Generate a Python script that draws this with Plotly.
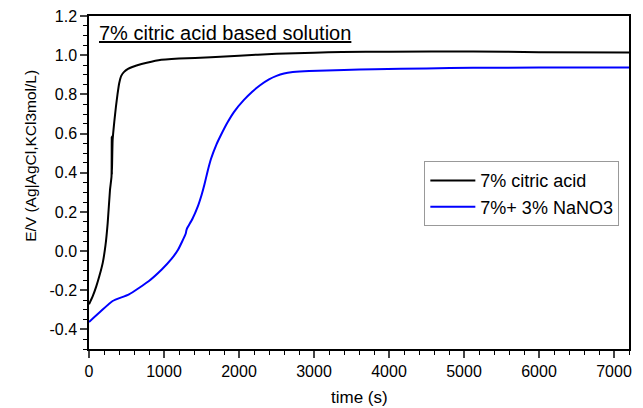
import plotly.graph_objects as go

# Black: 7% citric acid
t_citric = [0, 50, 97, 140, 183, 220, 249, 280, 300, 303, 305, 315, 337, 359, 380, 402, 430, 468, 520, 577, 700, 927,
            1200, 1625, 2000, 2500, 3000, 3373, 4000, 5120, 6000, 7200]
e_citric = [-0.272, -0.23, -0.18, -0.125, -0.06, 0.03, 0.143, 0.313, 0.38, 0.585, 0.39, 0.567, 0.66, 0.737, 0.80, 0.856,
            0.895, 0.915, 0.93, 0.94, 0.955, 0.975, 0.983, 0.99, 0.998, 1.008, 1.013, 1.017, 1.018, 1.019, 1.016, 1.014]

# Blue: 7% + 3% NaNO3
t_nano3 = [0, 150, 315, 533, 795, 970, 1100, 1189, 1290, 1298, 1310, 1380, 1451, 1500, 1539, 1580, 1626, 1700, 1756,
           1844, 1932, 2063, 2180, 2281, 2400, 2500, 2600, 2718, 2936, 3400, 3810, 4500, 5120, 6000, 7200]
e_nano3 = [-0.362, -0.31, -0.255, -0.221, -0.154, -0.094, -0.04, 0.008, 0.09, 0.105, 0.118, 0.165, 0.228, 0.285, 0.34,
           0.405, 0.47, 0.545, 0.59, 0.655, 0.71, 0.771, 0.815, 0.847, 0.877, 0.895, 0.907, 0.914, 0.92, 0.925, 0.929,
           0.933, 0.936, 0.937, 0.938]

y_tickvals = [-0.4, -0.2, 0.0, 0.2, 0.4, 0.6, 0.8, 1.0, 1.2]
y_ticktext = ["-0.4", "-0.2", "0.0", "0.2", "0.4", "0.6", "0.8", "1.0", "1.2"]
x_tickvals = [0, 1000, 2000, 3000, 4000, 5000, 6000, 7000]

FONT = "Liberation Sans, Arial, sans-serif"

fig = go.Figure()
fig.add_trace(go.Scatter(x=t_citric, y=e_citric, mode="lines", name="7% citric acid",
                         line=dict(color="#000000", width=2, shape="spline", smoothing=0.4)))
fig.add_trace(go.Scatter(x=t_nano3, y=e_nano3, mode="lines", name="7%+ 3% NaNO3",
                         line=dict(color="#0000ff", width=2, shape="spline", smoothing=0.5)))

fig.update_layout(
    width=636, height=408,
    margin=dict(l=89, r=4, t=16, b=58.5),
    paper_bgcolor="white", plot_bgcolor="white",
    font=dict(family=FONT, color="black", size=16),
    showlegend=True,
    legend=dict(x=0.621, y=0.564, xanchor="left", yanchor="top",
                bordercolor="#999999", borderwidth=1, bgcolor="white",
                font=dict(size=18, family=FONT), tracegroupgap=0,
                itemwidth=45),
    annotations=[
        dict(text="<u>7% citric acid based solution</u>", xref="paper", yref="paper",
             x=0.014, y=0.949, xanchor="left", yanchor="middle", showarrow=False,
             font=dict(size=20, family=FONT, color="black")),
        dict(text="E/V (Ag|AgCl,KCl3mol/L)", xref="paper", yref="paper", x=0, y=0.58,
             xshift=-58, xanchor="center", yanchor="middle", textangle=-90, showarrow=False,
             font=dict(size=15.5, family=FONT, color="black")),
        dict(text="time (s)", xref="paper", yref="paper", x=0.5, y=0, yshift=-48.5,
             xanchor="center", yanchor="middle", showarrow=False,
             font=dict(size=17, family=FONT, color="black")),
    ],
)

fig.update_xaxes(range=[0, 7200], tickvals=x_tickvals, ticks="outside", ticklen=7, tickwidth=1.5,
                 showline=True, linecolor="black", linewidth=1.5, mirror=True, showgrid=False, zeroline=False,
                 minor=dict(dtick=200, tick0=0, ticks="outside", ticklen=4, tickwidth=1.2, tickcolor="black", showgrid=False),
                 tickfont=dict(size=16), ticklabeloverflow="allow")
fig.update_yaxes(range=[-0.5, 1.2005], tickvals=y_tickvals, ticktext=y_ticktext, ticks="outside", ticklen=7, tickwidth=1.5,
                 showline=True, linecolor="black", linewidth=1.5, mirror=True, showgrid=False, zeroline=False,
                 minor=dict(dtick=0.05, tick0=0, ticks="outside", ticklen=4, tickwidth=1.2, tickcolor="black", showgrid=False),
                 tickfont=dict(size=16), ticklabeloverflow="allow")

fig.write_html("out.html", config={"displayModeBar": False},
               post_script="document.body.style.margin='0';document.documentElement.style.overflow='hidden';")
